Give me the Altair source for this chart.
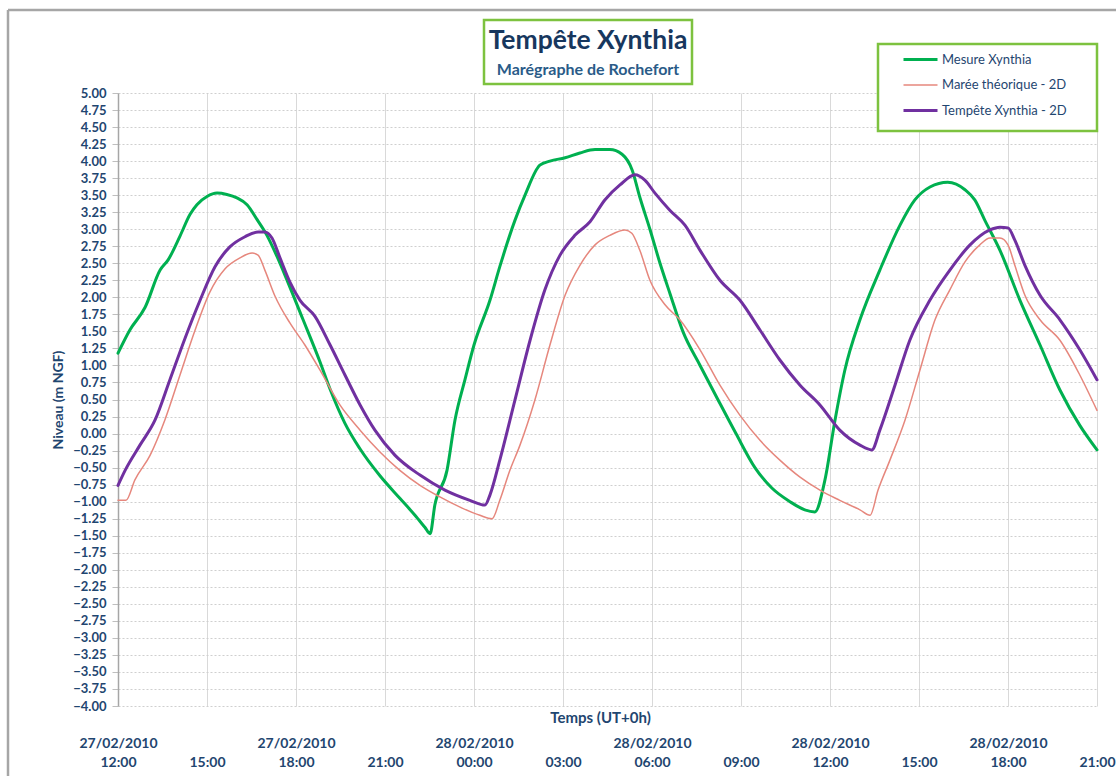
import altair as alt
import pandas as pd

# Water level at the Rochefort tide gauge, storm Xynthia.
# Time is in hours after 27/02/2010 12:00 UT, level in m NGF.
series_names = ["Mesure Xynthia", "Marée théorique - 2D", "Tempête Xynthia - 2D"]
series_colors = ["#00B050", "#E6877D", "#7030A0"]
series_widths = [3, 1.5, 3]

mesure_h = [0.00, 0.40, 0.91, 1.42, 1.69, 2.09, 2.43, 2.66, 3.00, 3.34, 3.67, 4.01,
            4.35, 4.69, 5.02, 5.36, 5.70, 6.24, 6.81, 7.15, 7.65, 8.15, 8.83, 9.50,
            10.01, 10.35, 10.52, 10.68, 11.09, 11.36, 11.70, 12.00, 12.54, 12.87,
            13.38, 13.72, 14.22, 14.56, 15.07, 15.57, 16.08, 16.58, 16.99, 17.33,
            17.59, 17.93, 18.27, 18.61, 19.04, 19.62, 20.22, 20.83, 21.47, 22.04,
            22.65, 23.15, 23.49, 23.83, 24.17, 24.50, 25.01, 25.68, 26.36, 26.86,
            27.37, 27.97, 28.55, 28.88, 29.22, 29.73, 30.40, 31.08, 31.75, 32.42, 33.00]
mesure_v = [1.18, 1.52, 1.85, 2.40, 2.55, 2.90, 3.22, 3.36, 3.48, 3.53, 3.51, 3.46,
            3.36, 3.14, 2.91, 2.60, 2.25, 1.67, 1.05, 0.65, 0.15, -0.22, -0.62, -0.95,
            -1.20, -1.38, -1.47, -1.05, -0.54, 0.20, 0.80, 1.30, 1.96, 2.45,
            3.13, 3.50, 3.94, 4.00, 4.05, 4.12, 4.17, 4.17, 4.10, 3.87,
            3.47, 3.00, 2.50, 2.05, 1.50, 1.00, 0.50, 0.00, -0.50, -0.80,
            -1.00, -1.12, -1.15, -0.68, 0.20, 0.93, 1.67, 2.40, 3.06, 3.43,
            3.62, 3.69, 3.58, 3.43, 3.13, 2.69, 1.96, 1.30, 0.64, 0.12, -0.24]

maree_h = [0.00, 0.27, 0.57, 1.08, 1.58, 2.09, 2.60, 3.10, 3.61, 4.11, 4.52, 4.72,
           4.95, 5.29, 5.80, 6.30, 6.81, 7.48, 8.16, 8.83, 9.50, 10.18, 10.85, 11.53,
           12.20, 12.61, 12.87, 13.21, 13.55, 14.05, 14.56, 15.07, 15.57, 16.08,
           16.58, 17.09, 17.32, 17.59, 17.93, 18.44, 18.94, 19.62, 20.29, 20.96,
           21.64, 22.31, 22.99, 23.66, 24.33, 25.01, 25.35, 25.62, 26.02, 26.53,
           27.03, 27.54, 28.04, 28.55, 29.05, 29.39, 29.73, 30.00, 30.23, 30.57,
           31.08, 31.75, 32.42, 33.00]
maree_v = [-0.98, -0.98, -0.68, -0.32, 0.20, 0.86, 1.52, 2.08, 2.42, 2.58, 2.65, 2.62,
           2.40, 2.02, 1.62, 1.30, 0.93, 0.42, 0.05, -0.27, -0.54, -0.76, -0.93, -1.08,
           -1.20, -1.25, -0.98, -0.54, -0.17, 0.49, 1.30, 2.03, 2.47, 2.77,
           2.91, 2.99, 2.94, 2.69, 2.25, 1.89, 1.67, 1.23, 0.71, 0.27,
           -0.10, -0.39, -0.64, -0.83, -0.98, -1.12, -1.20, -0.83, -0.39, 0.20,
           0.93, 1.67, 2.11, 2.52, 2.77, 2.87, 2.87, 2.77, 2.47, 2.03,
           1.67, 1.37, 0.86, 0.34]

tempete_h = [0.00, 0.24, 0.74, 1.25, 1.75, 2.26, 2.76, 3.27, 3.77, 4.28, 4.72, 4.95,
             5.19, 5.46, 5.80, 6.13, 6.64, 7.15, 7.65, 8.16, 8.66, 9.34, 10.18, 11.02,
             11.86, 12.37, 12.54, 12.87, 13.38, 13.89, 14.39, 14.90, 15.40, 15.91,
             16.41, 16.92, 17.43, 17.76, 18.10, 18.60, 19.11, 19.62, 20.29, 20.96,
             21.64, 22.31, 22.99, 23.66, 24.33, 25.01, 25.41, 25.68, 26.19, 26.69,
             27.37, 28.04, 28.72, 29.39, 29.73, 30.00, 30.23, 30.57, 31.08, 31.75,
             32.42, 33.00]
tempete_v = [-0.76, -0.54, -0.17, 0.20, 0.79, 1.40, 1.95, 2.45, 2.74, 2.89, 2.96, 2.96,
             2.87, 2.58, 2.22, 1.96, 1.72, 1.30, 0.86, 0.42, 0.05, -0.32, -0.61, -0.83,
             -0.98, -1.05, -0.90, -0.39, 0.49, 1.37, 2.11, 2.62, 2.91, 3.11,
             3.43, 3.65, 3.80, 3.72, 3.53, 3.28, 3.06, 2.69, 2.25, 1.96,
             1.52, 1.08, 0.71, 0.42, 0.05, -0.17, -0.24, 0.05, 0.71, 1.37,
             1.96, 2.40, 2.77, 2.99, 3.03, 3.02, 2.84, 2.47, 2.03, 1.67,
             1.23, 0.79]

tick_hours = [0, 3, 6, 9, 12, 15, 18, 21, 24, 27, 30, 33]
tick_dates = ["27/02/2010", "", "27/02/2010", "", "28/02/2010", "",
              "28/02/2010", "", "28/02/2010", "", "28/02/2010", ""]
tick_times = ["12:00", "15:00", "18:00", "21:00", "00:00", "03:00",
              "06:00", "09:00", "12:00", "15:00", "18:00", "21:00"]
level_ticks = [round(-4 + 0.25 * i, 2) for i in range(37)]

frames = []
for name, hs, vs in [(series_names[0], mesure_h, mesure_v),
                     (series_names[1], maree_h, maree_v),
                     (series_names[2], tempete_h, tempete_v)]:
    frames.append(pd.DataFrame({"heure": hs, "niveau": vs, "serie": name}))
df = pd.concat(frames, ignore_index=True)

FONT = "Lato"
TEXT_BLUE = "#1F4670"
BOX_GREEN = "#7DC23F"
W, H = 979, 613

pairs = ",".join('["%s","%s"]' % (d, t) for d, t in zip(tick_dates, tick_times))
x_label_expr = "[" + pairs + "][round(datum.value / 3)]"

one = alt.Data(values=[{}])

# outer chart frame (left and top edges)
frame_left = alt.Chart(one).mark_rule(color="#A6A6A6", strokeWidth=2.5).encode(
    x=alt.value(-110), y=alt.value(-83), y2=alt.value(H + 70)
)
frame_top = alt.Chart(one).mark_rule(color="#A6A6A6", strokeWidth=2.5).encode(
    x=alt.value(-110), x2=alt.value(W + 19), y=alt.value(-83)
)

# title box and title text
title_box = alt.Chart(one).mark_rect(
    fill="white", stroke=BOX_GREEN, strokeWidth=2.5
).encode(x=alt.value(366), x2=alt.value(574), y=alt.value(-73), y2=alt.value(-9))
title_main = alt.Chart(one).mark_text(
    text="Tempête Xynthia", font=FONT, fontSize=26.5, fontWeight="bold",
    color="#17375E", align="center", baseline="middle"
).encode(x=alt.value(470), y=alt.value(-52))
title_sub = alt.Chart(one).mark_text(
    text="Marégraphe de Rochefort", font=FONT, fontSize=16, fontWeight="bold",
    color="#2A5B88", align="center", baseline="middle"
).encode(x=alt.value(470), y=alt.value(-23))

# legend box
legend_box = alt.Chart(one).mark_rect(
    fill="white", stroke=BOX_GREEN, strokeWidth=2.5
).encode(x=alt.value(760), x2=alt.value(979), y=alt.value(-49), y2=alt.value(38))

legend = alt.Legend(
    title=None, orient="none", legendX=784, legendY=-52,
    symbolType="stroke", symbolSize=1156, rowPadding=-4.5,
    labelFont=FONT, labelFontSize=13, labelColor=TEXT_BLUE, labelOffset=3,
    padding=0,
)

lines = alt.Chart(df).mark_line(
    interpolate="monotone", strokeCap="round", strokeJoin="round"
).encode(
    x=alt.X(
        "heure:Q",
        scale=alt.Scale(domain=[0, 33], nice=False, zero=False),
        axis=alt.Axis(
            values=tick_hours, labelExpr=x_label_expr,
            labelFont=FONT, labelFontSize=14, labelFontWeight="bold",
            labelColor=TEXT_BLUE, labelPadding=30, labelLineHeight=19,
            labelOverlap=False, labelFlush=False,
            ticks=False, domain=False,
            grid=True, gridColor="#D9D9D9", gridWidth=1,
            title="Temps (UT+0h)", titleFont=FONT, titleFontSize=15,
            titleFontWeight="bold", titleColor=TEXT_BLUE,
            titleX=482, titleY=11, titleBaseline="middle", titleAlign="center",
        ),
    ),
    y=alt.Y(
        "niveau:Q",
        scale=alt.Scale(domain=[-4, 5], nice=False, zero=False),
        axis=alt.Axis(
            values=level_ticks, format=".2f",
            labelFont=FONT, labelFontSize=13, labelFontWeight="bold",
            labelColor=TEXT_BLUE, labelPadding=6,
            tickSize=6, tickColor="#BFBFBF",
            domain=True, domainColor="#A6A6A6", domainWidth=1.5,
            grid=True, gridColor="#CFCFCF", gridDash=[2, 2], gridWidth=1,
            title="Niveau (m NGF)", titleFont=FONT, titleFontSize=14,
            titleFontWeight="bold", titleColor=TEXT_BLUE,
            titleX=-60, titleY=H / 2, titleAngle=-90,
            titleAlign="center", titleBaseline="middle",
        ),
    ),
    color=alt.Color(
        "serie:N", scale=alt.Scale(domain=series_names, range=series_colors),
        legend=legend,
    ),
    strokeWidth=alt.StrokeWidth(
        "serie:N",
        scale=alt.Scale(type="ordinal", domain=series_names, range=series_widths),
        legend=legend,
    ),
)

chart = alt.layer(
    frame_left, frame_top, title_box, title_main, title_sub, legend_box, lines
).properties(
    width=W, height=H,
    autosize=alt.AutoSizeParams(type="none"),
    padding={"left": 118, "top": 93, "right": 19, "bottom": 70},
    background="white",
).configure_view(stroke=None)

chart.save("out.html", embed_options={"renderer": "svg", "actions": False})
